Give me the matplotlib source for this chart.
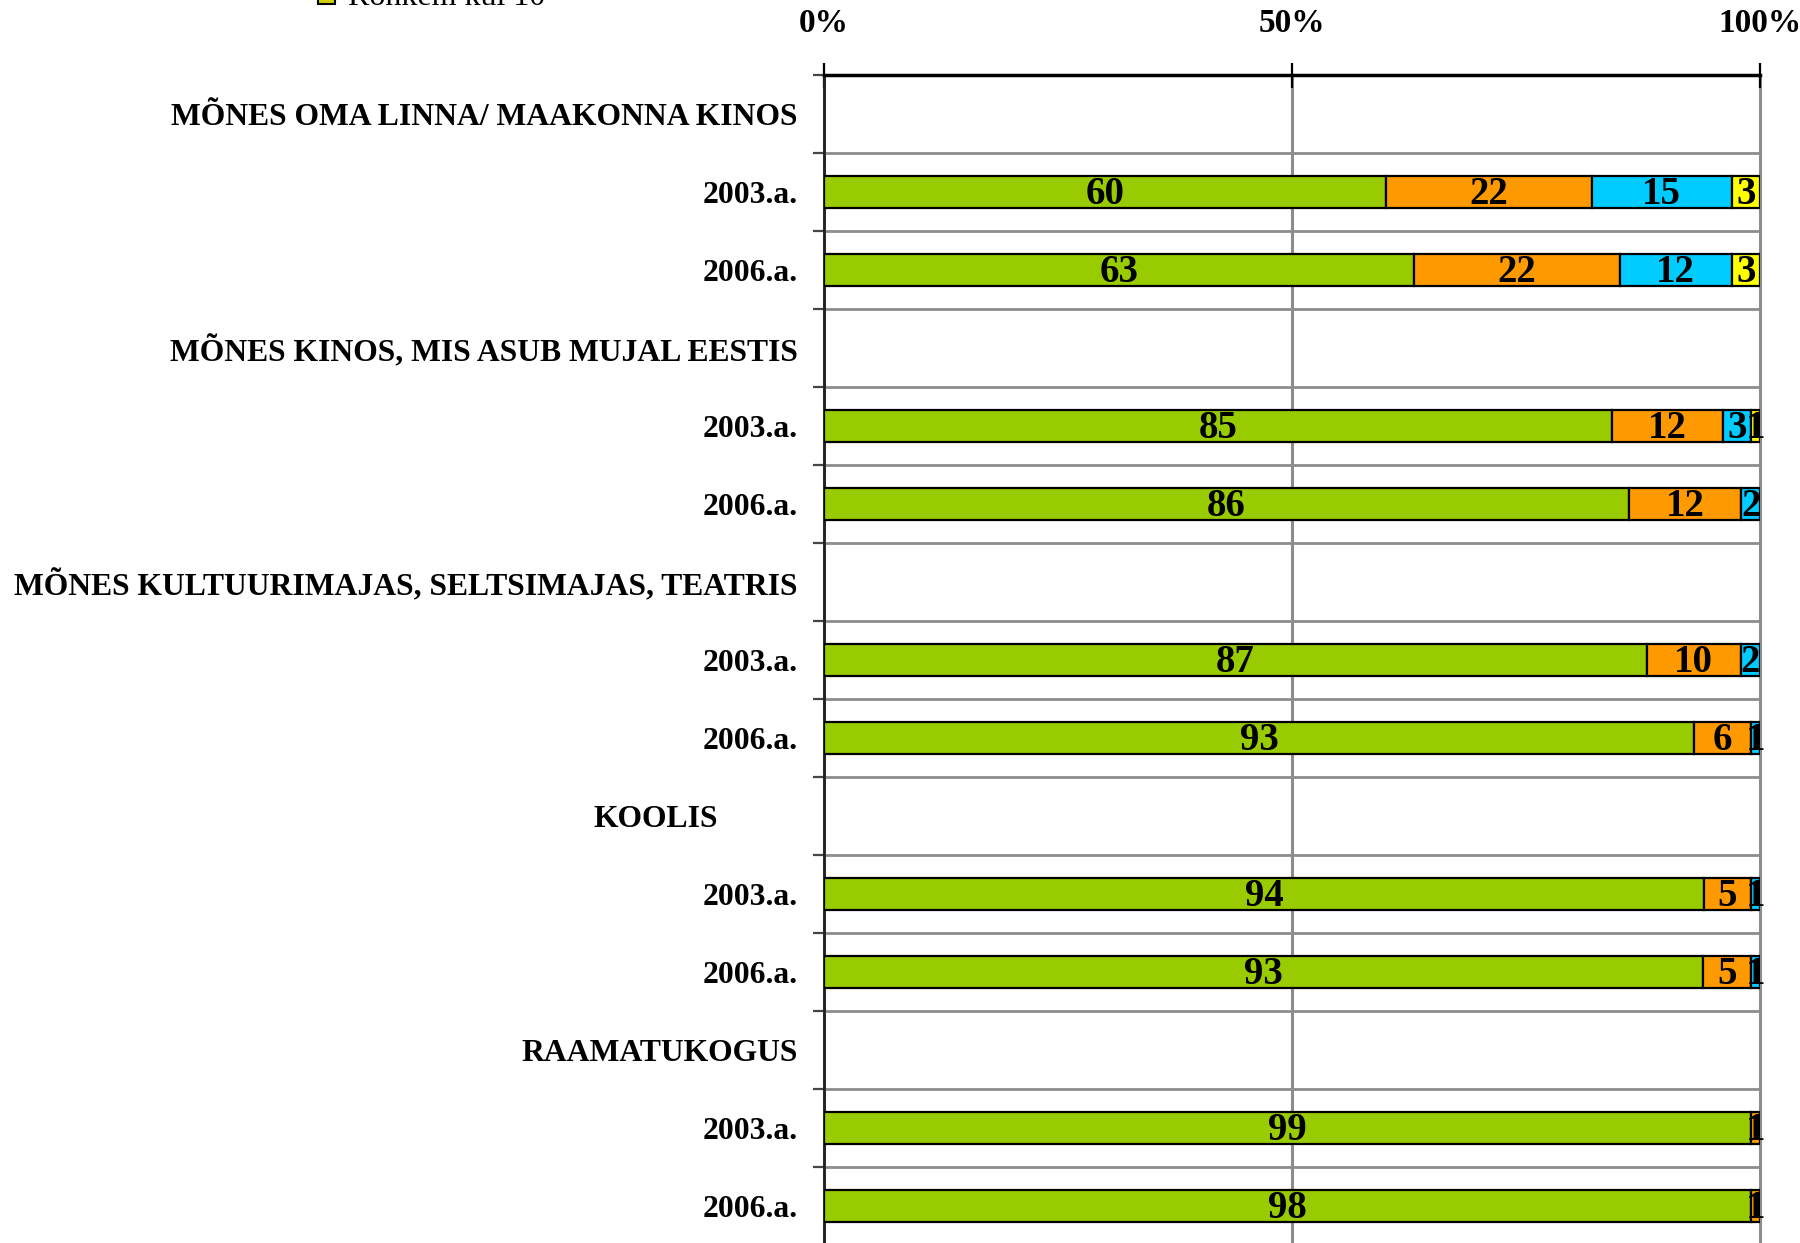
import matplotlib
matplotlib.use("Agg")
import matplotlib.pyplot as plt
from matplotlib.patches import Rectangle
import matplotlib.transforms as mtransforms
import numpy as np

# ---- data ----
row_labels = [
    "MÕNES OMA LINNA/ MAAKONNA KINOS", "2003.a.", "2006.a.",
    "MÕNES KINOS, MIS ASUB MUJAL EESTIS", "2003.a.", "2006.a.",
    "MÕNES KULTUURIMAJAS, SELTSIMAJAS, TEATRIS", "2003.a.", "2006.a.",
    "KOOLIS", "2003.a.", "2006.a.",
    "RAAMATUKOGUS", "2003.a.", "2006.a.",
]
series_names = ["Mitte kordagi", "1-2 korda", "3-10 korda", "Rohkem kui 10"]
mitte_kordagi = [0, 60, 63, 0, 85, 86, 0, 87, 93, 0, 94, 93, 0, 99, 98]
korda_1_2     = [0, 22, 22, 0, 12, 12, 0, 10, 6, 0, 5, 5, 0, 1, 1]
korda_3_10    = [0, 15, 12, 0, 3, 2, 0, 2, 1, 0, 1, 1, 0, 0, 0]
rohkem_10     = [0, 3, 3, 0, 1, 0, 0, 0, 0, 0, 0, 0, 0, 0, 0]
x_ticks = [0, 50, 100]
x_ticklabels = ["0%", "50%", "100%"]

colors = ["#99CC00", "#FF9900", "#00CCFF", "#FFFF00"]

serif = ["Liberation Serif", "DejaVu Serif"]

fig = plt.figure(figsize=(18, 12.43), dpi=100)
ax = fig.add_axes([824/1800, -2/1243, (1760-824)/1800, (1243-75+2)/1243])

series = np.array([mitte_kordagi, korda_1_2, korda_3_10, rohkem_10], dtype=float)
totals = series.sum(axis=0)
totals[totals == 0] = 1
pct = series / totals * 100
y = np.arange(len(row_labels))
left = np.zeros(len(row_labels))
for i in range(4):
    mask = series[i] > 0
    ax.barh(y[mask], pct[i][mask], left=left[mask], height=0.40,
            color=colors[i], edgecolor="black", linewidth=1.6, zorder=3)
    for yy, l, w, v in zip(y[mask], left[mask], pct[i][mask], series[i][mask]):
        ax.text(l + w/2, yy + 0.03, f"{int(v)}", ha="center", va="center",
                fontsize=28, fontweight="bold", family=serif, zorder=5)
    left = left + pct[i]

ax.set_xlim(0, 100)
ax.set_ylim(len(row_labels) - 0.5, -0.5)

# gridlines
ax.set_yticks(np.arange(-0.5, len(row_labels) + 0.5, 1))
ax.set_yticklabels([])
ax.tick_params(axis="y", length=8, width=1.6, color="#444444", direction="out")
ax.grid(axis="y", color="#8c8c8c", linewidth=2, zorder=1)
ax.set_xticks(x_ticks)
ax.set_xticklabels(x_ticklabels, family=serif, fontsize=24, fontweight="bold")
ax.xaxis.tick_top()
ax.tick_params(axis="x", direction="inout", length=18, width=1.6, pad=17,
               color="black")
ax.grid(axis="x", color="#8c8c8c", linewidth=2.2, zorder=1)
for gl in ax.get_xgridlines() + ax.get_ygridlines():
    gl.set_clip_on(False)
ax.set_axisbelow(True)

for s in ["right", "bottom"]:
    ax.spines[s].set_visible(False)
ax.spines["top"].set_linewidth(2.5)
ax.spines["left"].set_linewidth(2)
ax.spines["left"].set_color("#222222")

# row labels
trans = mtransforms.blended_transform_factory(ax.transAxes, ax.transData)
for yy, lab in zip(y, row_labels):
    xpos = -0.1136 if lab == "KOOLIS" else -0.0278
    ax.text(xpos, yy + 0.05, lab, transform=trans, ha="right", va="center",
            fontsize=22.8, fontweight="bold", family=serif)

# partially visible legend entry at top (cut off by the page edge)
fig.patches.append(Rectangle((318/1800, 1 - 4/1243), 17/1800, 16/1243,
                             transform=fig.transFigure, facecolor="#D0D000",
                             edgecolor="black", linewidth=1.5))
fig.text(348/1800, 1 - 5/1243, series_names[3], family=serif, fontsize=23,
         va="baseline", ha="left")

fig.savefig("out.png", dpi=100)
